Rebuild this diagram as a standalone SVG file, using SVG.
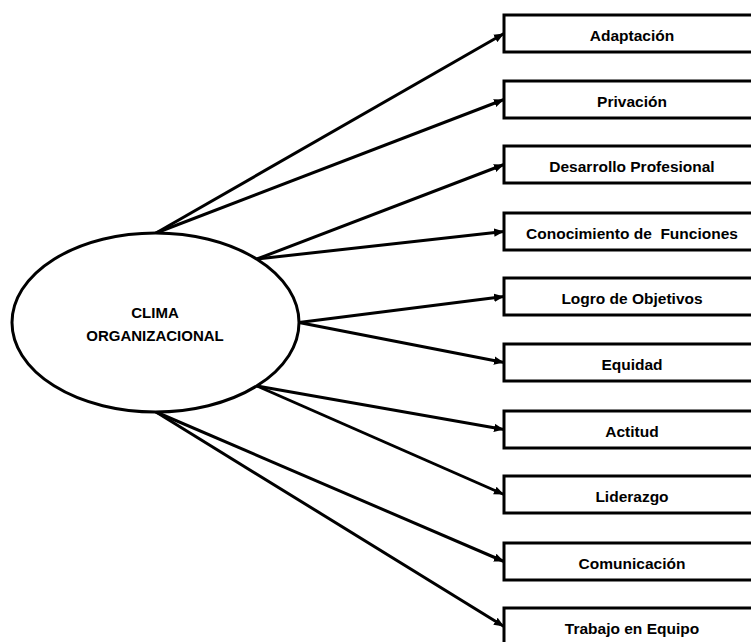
<svg xmlns="http://www.w3.org/2000/svg" width="751" height="642" viewBox="0 0 751 642">
  <style>
    .shape { fill: #ffffff; stroke: #000000; stroke-width: 3; }
    .link { fill: none; stroke: #000000; stroke-width: 3; marker-end: url(#arrow); }
    .label { font-family: "Liberation Sans", Arial, sans-serif; font-weight: bold; font-size: 15.5px; fill: #000000; text-anchor: middle; white-space: pre; }
    .center-label { font-family: "Liberation Sans", Arial, sans-serif; font-weight: bold; font-size: 15px; fill: #000000; text-anchor: middle; }
  </style>
  <defs>
    <marker id="arrow" markerUnits="userSpaceOnUse" markerWidth="12" markerHeight="10" refX="10" refY="5" orient="auto">
      <path d="M0,0.8 L10,5 L0,9.2 Z" fill="#000000"/>
    </marker>
  </defs>
  <rect width="751" height="642" fill="#ffffff"/>

  <!-- connectors from the central ellipse to each factor -->
  <g id="connectors">
    <line class="link" x1="156" y1="233" x2="504" y2="33.5"/>
    <line class="link" x1="156" y1="233" x2="504" y2="99.5"/>
    <line class="link" x1="257" y1="259" x2="504" y2="164.5"/>
    <line class="link" x1="257" y1="259" x2="504" y2="231.5"/>
    <line class="link" x1="299" y1="322.5" x2="504" y2="296.5"/>
    <line class="link" x1="299" y1="322.5" x2="504" y2="362.5"/>
    <line class="link" x1="257" y1="386" x2="504" y2="429.5"/>
    <line class="link" x1="257" y1="386" x2="504" y2="494.5"/>
    <line class="link" x1="156" y1="412" x2="504" y2="561.5"/>
    <line class="link" x1="156" y1="412" x2="504" y2="626.5"/>
  </g>

  <g id="clima">
    <ellipse class="shape" cx="155.5" cy="322.5" rx="143.5" ry="89.5"/>
    <text class="center-label" x="155" y="318">CLIMA</text>
    <text class="center-label" x="155" y="341">ORGANIZACIONAL</text>
  </g>

  <g id="adaptacion">
    <rect class="shape" x="504" y="15" width="262" height="37"/>
    <text class="label" x="632" y="40.5">Adaptación</text>
  </g>
  <g id="privacion">
    <rect class="shape" x="504" y="81" width="262" height="37"/>
    <text class="label" x="632" y="106.5">Privación</text>
  </g>
  <g id="desarrollo">
    <rect class="shape" x="504" y="146" width="262" height="37"/>
    <text class="label" x="632" y="171.5">Desarrollo Profesional</text>
  </g>
  <g id="conocimiento">
    <rect class="shape" x="504" y="213" width="262" height="37"/>
    <text class="label" x="632" y="238.5">Conocimiento de  Funciones</text>
  </g>
  <g id="logro">
    <rect class="shape" x="504" y="278" width="262" height="37"/>
    <text class="label" x="632" y="303.5">Logro de Objetivos</text>
  </g>
  <g id="equidad">
    <rect class="shape" x="504" y="344" width="262" height="37"/>
    <text class="label" x="632" y="369.5">Equidad</text>
  </g>
  <g id="actitud">
    <rect class="shape" x="504" y="411" width="262" height="37"/>
    <text class="label" x="632" y="436.5">Actitud</text>
  </g>
  <g id="liderazgo">
    <rect class="shape" x="504" y="476" width="262" height="37"/>
    <text class="label" x="632" y="501.5">Liderazgo</text>
  </g>
  <g id="comunicacion">
    <rect class="shape" x="504" y="543" width="262" height="37"/>
    <text class="label" x="632" y="568.5">Comunicación</text>
  </g>
  <g id="trabajo">
    <rect class="shape" x="504" y="608" width="262" height="37"/>
    <text class="label" x="632" y="633.5">Trabajo en Equipo</text>
  </g>
</svg>
